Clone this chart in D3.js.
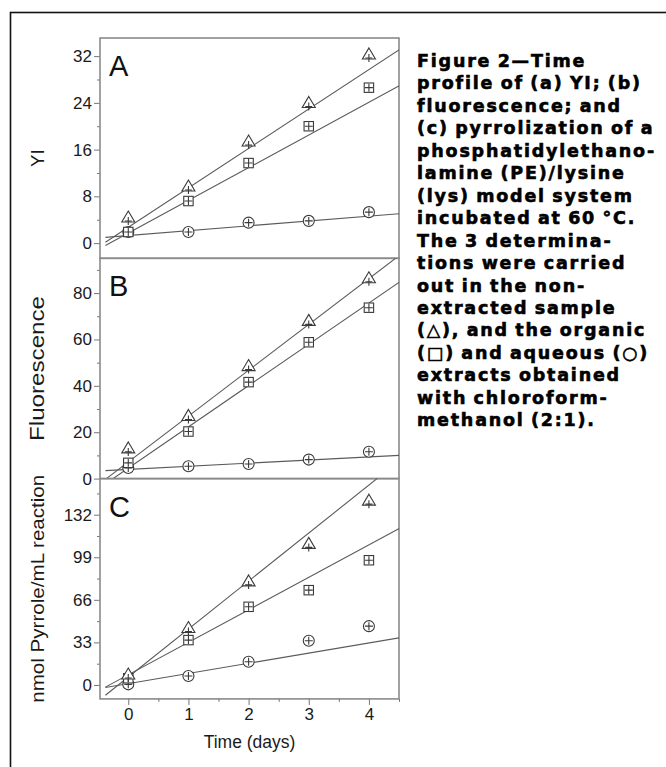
<!DOCTYPE html>
<html>
<head>
<meta charset="utf-8">
<script src="https://cdn.jsdelivr.net/npm/d3@7"></script>
<style>
  body { margin: 0; background: #fff; }
  svg { display: block; }
</style>
</head>
<body>
<div id="chart"></div>
<script>
// values
var days = [0, 1, 2, 3, 4];

// panel A : YI
var yiTri = [4.3, 9.6, 17.3, 23.9, 32.2];
var yiSq  = [1.9, 7.2, 13.7, 20.0, 26.6];
var yiCirc = [1.9, 1.9, 3.5, 3.8, 5.3];
// regression lines [intercept, slope] for triangle, square, circle
var yiFit = [[2.7, 6.75], [1.7, 5.6], [1.3, 0.83]];

// panel B : fluorescence
var flTri = [12.8, 26.8, 48.3, 67.8, 86.2];
var flSq  = [6.8, 20.3, 41.6, 58.8, 73.7];
var flCirc = [4.6, 5.3, 6.3, 8.2, 11.6];
var flFit = [[7.2, 19.76], [4.5, 17.8], [3.96, 1.35]];

// panel C : pyrrole
var pyTri = [7.7, 43.8, 79.9, 109, 142.5];
var pySq  = [5.2, 34.8, 60.6, 73.5, 96.7];
var pyCirc = [0.5, 7.0, 18.0, 34.3, 45.6];
var pyFit = [[6.2, 37.2], [7.9, 25.2], [1.0, 7.9]];

var panelLetters = ["A", "B", "C"];
var yLabels = ["YI", "Fluorescence", "nmol Pyrrole/mL reaction"];
var yDomains = [[-2.6, 35.1], [0, 95], [-10.8, 160]];
var yMajor = [[0, 8, 16, 24, 32], [0, 20, 40, 60, 80], [0, 33, 66, 99, 132]];
var yMinor = [[4, 12, 20, 28], [10, 30, 50, 70, 90], [16.5, 49.5, 82.5, 115.5, 148.5]];
var xMajor = [0, 1, 2, 3, 4];
var xMinor = [0.5, 1.5, 2.5, 3.5, 4.5];

var caption = [
  "Figure 2\u2014Time",
  "profile of (a) YI; (b)",
  "fluorescence; and",
  "(c) pyrrolization of a",
  "phosphatidylethano-",
  "lamine (PE)/lysine",
  "(lys) model system",
  "incubated at 60 \u00B0C.",
  "The 3 determina-",
  "tions were carried",
  "out in the non-",
  "extracted sample",
  "(\u25B3), and the organic",
  "(\u25A1) and aqueous (\u25CB)",
  "extracts obtained",
  "with chloroform-",
  "methanol (2:1)."
];

var panels = [
  {tri: yiTri, sq: yiSq, circ: yiCirc, fit: yiFit},
  {tri: flTri, sq: flSq, circ: flCirc, fit: flFit},
  {tri: pyTri, sq: pySq, circ: pyCirc, fit: pyFit}
];

var W = 666, H = 767;
var left = 100, right = 399, top0 = 38, panelH = 220.3;
var fitStart = -0.38, fitEnd = 4.6;
var labelShift = [10, 0, 0];       // vertical nudge of the y titles
var labelSize = [18.5, 19.5, 19];  // y titles
var labelLen = [0, 145, 228];      // the y titles are drawn stretched along their length
var font = "Liberation Sans, Arial, sans-serif";

var svg = d3.select("#chart").append("svg")
  .attr("width", W).attr("height", H);

// outer frame
svg.append("rect")
  .attr("x", 10.5).attr("y", 12.5)
  .attr("width", 700).attr("height", 800)
  .attr("fill", "none").attr("stroke", "#111").attr("stroke-width", 1.6);

var x = d3.scaleLinear().domain([-0.47, 4.5]).range([left, right]);
var lineCol = "#5a5a5a", markCol = "#3a3a3a";

panels.forEach(function(p, i) {
  var pt = top0 + i * panelH, pb = pt + panelH;
  var y = d3.scaleLinear().domain(yDomains[i]).range([pb, pt]);
  var g = svg.append("g");

  var clipId = "clip" + i;
  svg.append("clipPath").attr("id", clipId)
    .append("rect").attr("x", left).attr("y", pt)
    .attr("width", right - left).attr("height", panelH);

  // minor ticks
  var axMinor = g.append("g")
    .attr("transform", "translate(" + left + ",0)")
    .call(d3.axisLeft(y).tickValues(yMinor[i]).tickSize(3).tickFormat(""));
  axMinor.select(".domain").remove();
  axMinor.selectAll("line").attr("stroke", "#777");

  var ax = g.append("g")
    .attr("transform", "translate(" + left + ",0)")
    .call(d3.axisLeft(y).tickValues(yMajor[i]).tickSize(6).tickPadding(2));
  ax.select(".domain").remove();
  ax.selectAll("line").attr("stroke", "#777");
  ax.selectAll("text")
    .attr("font-family", font)
    .attr("font-size", 17).attr("fill", "#1a1a1a");

  // frame of the panel
  g.append("rect")
    .attr("x", left).attr("y", pt)
    .attr("width", right - left).attr("height", panelH)
    .attr("fill", "none").attr("stroke", "#8a8a8a").attr("stroke-width", 1.6);

  // regression lines
  var lg = g.append("g").attr("clip-path", "url(#" + clipId + ")");
  p.fit.forEach(function(f) {
    lg.append("line")
      .attr("x1", x(fitStart)).attr("y1", y(f[0] + f[1] * fitStart))
      .attr("x2", x(fitEnd)).attr("y2", y(f[0] + f[1] * fitEnd))
      .attr("stroke", lineCol).attr("stroke-width", 1.1);
  });

  // markers
  var mg = g.append("g").attr("fill", "none").attr("stroke", markCol).attr("stroke-width", 1.1);
  function cross(cx, cy) {
    mg.append("path")
      .attr("d", "M" + cx + "," + (cy - 4) + "V" + (cy + 4) + "M" + (cx - 4) + "," + cy + "H" + (cx + 4));
  }
  days.forEach(function(d, k) {
    var cx = x(d), cy;
    cy = y(p.circ[k]);
    mg.append("circle").attr("cx", cx).attr("cy", cy).attr("r", 5.5).attr("fill", "#fff");
    cross(cx, cy);
    cy = y(p.sq[k]);
    mg.append("rect").attr("x", cx - 4.7).attr("y", cy - 4.7).attr("width", 9.4).attr("height", 9.4).attr("fill", "#fff");
    cross(cx, cy);
    cy = y(p.tri[k]);
    mg.append("path")
      .attr("d", "M" + cx + "," + (cy - 7) + "L" + (cx + 6.5) + "," + (cy + 4) + "L" + (cx - 6.5) + "," + (cy + 4) + "Z")
      .attr("fill", "#fff");
    mg.append("path")
      .attr("d", "M" + cx + "," + (cy - 1) + "V" + (cy + 7) + "M" + (cx - 3.5) + "," + (cy + 3) + "H" + (cx + 3.5));
  });

  // panel letter
  g.append("text")
    .attr("x", 109).attr("y", pt + 38)
    .attr("font-family", font)
    .attr("font-size", 29).attr("fill", "#111")
    .text(panelLetters[i]);

  // y label
  var yl = g.append("text")
    .attr("transform", "translate(44," + (pt + panelH / 2 + labelShift[i]) + ") rotate(-90)")
    .attr("text-anchor", "middle")
    .attr("font-family", font)
    .attr("font-size", labelSize[i]).attr("fill", "#1a1a1a")
    .text(yLabels[i]);
  if (labelLen[i]) {
    yl.attr("textLength", labelLen[i]).attr("lengthAdjust", "spacingAndGlyphs");
  }

  if (i === panels.length - 1) {
    var xm = svg.append("g").attr("transform", "translate(0," + pb + ")")
      .call(d3.axisBottom(x).tickValues(xMinor).tickSize(3).tickFormat(""));
    xm.select(".domain").remove();
    xm.selectAll("line").attr("stroke", "#777");
    var xa = svg.append("g").attr("transform", "translate(0," + pb + ")")
      .call(d3.axisBottom(x).tickValues(xMajor).tickSize(6).tickPadding(3).tickFormat(d3.format("d")));
    xa.select(".domain").remove();
    xa.selectAll("line").attr("stroke", "#777");
    xa.selectAll("text")
      .attr("font-family", font)
      .attr("font-size", 17).attr("fill", "#1a1a1a");
    svg.append("text")
      .attr("x", (left + right) / 2).attr("y", 748)
      .attr("text-anchor", "middle")
      .attr("font-family", font)
      .attr("font-size", 17.5).attr("fill", "#1a1a1a")
      .text("Time (days)");
  }
});

// caption
var cap = svg.append("text")
  .attr("font-family", "DejaVu Sans, sans-serif")
  .attr("font-weight", "bold")
  .attr("font-size", 17.5)
  .attr("letter-spacing", 1.8)
  .attr("word-spacing", -1.5)
  .attr("stroke", "#000").attr("stroke-width", 0.6)
  .attr("fill", "#000");
caption.forEach(function(line, k) {
  cap.append("tspan").attr("x", 417).attr("y", 67 + k * 22.45).text(line);
});
</script>
</body>
</html>
